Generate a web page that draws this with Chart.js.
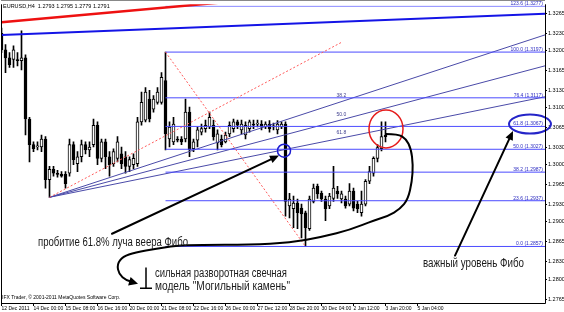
<!DOCTYPE html>
<html><head><meta charset="utf-8">
<script src="https://cdn.jsdelivr.net/npm/chart.js@4.4.0/dist/chart.umd.min.js"></script>
<style>html,body{margin:0;padding:0;background:#fff;}</style>
</head><body>
<canvas id="c" width="564" height="312"></canvas>
<script>
// ---------- DATA ----------
const opens  = [1.3230,1.3201,1.3187,1.3184,1.3184,1.3182,1.3187,1.3080,1.3035,1.3031,1.3031,1.3045,1.2974,1.2992,1.2985,1.2983,1.2983,1.2985,1.3035,1.3002,1.3014,1.3035,1.3026,1.3035,1.3069,1.3011,1.3040,1.3014,1.3002,1.3011,1.3019,1.3014,1.2997,1.3000,1.3002,1.3075,1.3078,1.3115,1.3097,1.3109,1.3109,1.3147,1.3045,1.3040,1.3045,1.3045,1.3045,1.3092,1.3028,1.3043,1.3057,1.3063,1.3066,1.3069,1.3038,1.3045,1.3040,1.3054,1.3063,1.3075,1.3061,1.3052,1.3063,1.3071,1.3071,1.3071,1.3066,1.3071,1.3066,1.3061,1.3066,1.3071,1.2928,1.2923,1.2933,1.2924,1.2916,1.2888,1.2936,1.2962,1.2950,1.2940,1.2928,1.2941,1.2954,1.2940,1.2940,1.2931,1.2954,1.2931,1.2916,1.2931,1.2971,1.2985,1.3011,1.3028,1.3052];
const highs  = [1.3239,1.3210,1.3196,1.3208,1.3196,1.3234,1.3192,1.3083,1.3040,1.3040,1.3052,1.3049,1.2997,1.2997,1.2990,1.2988,1.2988,1.3045,1.3040,1.3023,1.3043,1.3040,1.3040,1.3080,1.3075,1.3045,1.3045,1.3023,1.3028,1.3049,1.3031,1.3023,1.3014,1.3019,1.3083,1.3127,1.3135,1.3130,1.3121,1.3135,1.3161,1.3197,1.3075,1.3083,1.3049,1.3049,1.3115,1.3101,1.3045,1.3066,1.3071,1.3078,1.3092,1.3078,1.3061,1.3052,1.3057,1.3075,1.3080,1.3078,1.3078,1.3075,1.3078,1.3078,1.3078,1.3077,1.3075,1.3077,1.3073,1.3077,1.3075,1.3075,1.2950,1.2945,1.2940,1.2931,1.2919,1.2945,1.2966,1.2966,1.2954,1.2945,1.2950,1.2997,1.2962,1.2954,1.2945,1.2967,1.2959,1.2936,1.2954,1.2974,1.2997,1.3014,1.3035,1.3075,1.3075];
const lows   = [1.3196,1.3161,1.3170,1.3170,1.3173,1.3166,1.3052,1.3005,1.3023,1.3026,1.3023,1.2959,1.2943,1.2980,1.2978,1.2978,1.2959,1.2980,1.3000,1.2988,1.3005,1.3019,1.3014,1.3031,1.3000,1.3005,1.2993,1.2980,1.2997,1.3005,1.2993,1.2985,1.2988,1.2993,1.2997,1.3069,1.3075,1.3075,1.3092,1.3106,1.3106,1.3026,1.3031,1.3035,1.3040,1.3035,1.3040,1.3014,1.3023,1.3031,1.3052,1.3057,1.3063,1.3043,1.3026,1.3031,1.3038,1.3049,1.3057,1.3063,1.3054,1.3045,1.3057,1.3063,1.3066,1.3061,1.3063,1.3057,1.3061,1.3054,1.3063,1.2910,1.2907,1.2890,1.2888,1.2872,1.2857,1.2885,1.2933,1.2941,1.2936,1.2902,1.2923,1.2936,1.2941,1.2933,1.2924,1.2928,1.2919,1.2916,1.2910,1.2928,1.2967,1.2980,1.3005,1.3024,1.3040];
const closes = [1.3201,1.3187,1.3175,1.3201,1.3182,1.3187,1.3080,1.3035,1.3028,1.3033,1.3045,1.2974,1.2992,1.2985,1.2983,1.2980,1.2967,1.3035,1.3009,1.3014,1.3035,1.3026,1.3031,1.3069,1.3011,1.3040,1.3014,1.3000,1.3023,1.3040,1.3002,1.2997,1.3009,1.3011,1.3075,1.3109,1.3127,1.3080,1.3115,1.3127,1.3153,1.3054,1.3066,1.3071,1.3043,1.3040,1.3092,1.3026,1.3040,1.3061,1.3063,1.3069,1.3083,1.3049,1.3054,1.3035,1.3052,1.3069,1.3075,1.3069,1.3071,1.3069,1.3075,1.3069,1.3073,1.3066,1.3071,1.3063,1.3068,1.3071,1.3071,1.2936,1.2940,1.2933,1.2916,1.2914,1.2890,1.2940,1.2959,1.2949,1.2940,1.2923,1.2945,1.2959,1.2949,1.2949,1.2928,1.2954,1.2924,1.2923,1.2931,1.2971,1.2988,1.3011,1.3030,1.3049,1.3049];

const xTickBars   = [0, 8, 16, 24, 32, 40, 48, 56, 64, 72, 80, 88, 96, 104];
const xTickLabels = ['12 Dec 2011','14 Dec 00:00','15 Dec 08:00','16 Dec 16:00','20 Dec 00:00','21 Dec 08:00','22 Dec 16:00','26 Dec 00:00','27 Dec 12:00','28 Dec 20:00','30 Dec 04:00','2 Jan 12:00','3 Jan 20:00','5 Jan 04:00'];
const yTicks = [1.3265,1.3230,1.3200,1.3165,1.3130,1.3100,1.3065,1.3030,1.3000,1.2965,1.2930,1.2900,1.2865,1.2830,1.2800,1.2765];

// Fibo retracement (anchors + levels as labelled)
const fiboStart = {x: 41, y: 1.3197};
const fiboEnd   = {x: 76, y: 1.2857};
const fibLevels = [0.0, 23.6, 38.2, 50.0, 61.8, 76.4, 100.0, 123.6];
const fibPrices = [1.2857, 1.2937, 1.2987, 1.3027, 1.3067, 1.3117, 1.3197, 1.3277];

// Fibo fan
const fanOrigin = {x: 12, y: 1.2943};
const fanEnd    = {x: 85.25, y: 1.3215};
const fanLevels = [38.2, 50.0, 61.8];
const fanPrices = [1.3111, 1.3079, 1.3047];

// trend lines
const redTrend  = [{x: 0, y: 1.3249}, {x: 60, y: 1.3287}];
const blueTrend = [{x: 0, y: 1.3227}, {x: 135.875, y: 1.3264}];

// annotations (data coordinates)
const breakCircle = {x: 70.625, y: 1.30245};
const redCircle   = {x: 96.125, y: 1.30626};
const levelOval   = {x: 132.125, y: 1.30712};
const arrowBreak  = [{x: 27.625, y: 1.28792}, {x: 69.375, y: 1.30159}];
const arrowLevel  = [{x: 113.375, y: 1.28411}, {x: 127.875, y: 1.30591}];
const curvePts = [[96.125,1.30539],[99.125,1.30539],[101.125,1.30453],[102.375,1.30280],[102.875,1.30003],[102.625,1.29709],[101.625,1.29397],[99.625,1.29224],[96.625,1.29103],[93.375,1.29034],[87.125,1.28861],[80.375,1.28740],[72.125,1.28636],[62.125,1.28602],[49.625,1.28602],[43.375,1.28584],[38.875,1.28532],[33.375,1.28463],[30.375,1.28394],[28.875,1.28256],[29.375,1.28083],[31.125,1.27979],[33.125,1.27944]];
const texts = [
  {t: 'пробитие 61.8% луча веера Фибо', x: 9.125, y: 1.28636, w: 150},
  {t: 'важный уровень Фибо', x: 105.375, y: 1.28273, w: 101},
  {t: 'сильная разворотная свечная', x: 38.375, y: 1.28100, w: 132},
  {t: 'модель "Могильный камень"', x: 38.375, y: 1.27858, w: 135}
];
const gravestone = {x: 36.125, top: 1.28204, bottom: 1.27840, left: 34.625, right: 37.625};
const headerText = 'EURUSD,H4  1.2793 1.2795 1.2779 1.2791';
const footerText = 'IFX Trader, © 2001-2011 MetaQuotes Software Corp.';

// ---------- CHART ----------
const xMin = -0.125, xMax = 135.875;
const yMin = 1.27581, yMax = 1.32806;

const bodies = opens.map((o, i) => ({x: i, y: [o, closes[i]]}));
const wicks  = lows.map((l, i) => ({x: i, y: [l, highs[i]]}));
const bull   = opens.map((o, i) => closes[i] >= o);

function lineDS(pts, color, width, dash, order) {
  return {type: 'line', data: pts, borderColor: color, borderWidth: width, borderDash: dash || [],
    pointRadius: 0, fill: false, tension: 0, order: order, parsing: true};
}
function rayEnd(o, p) {
  const t = (xMax - o.x) / (p.x - o.x);
  return {x: xMax, y: o.y + (p.y - o.y) * t};
}

const datasets = [];
datasets.push({type: 'bar', data: wicks, backgroundColor: '#000', barThickness: 1, grouped: false, order: 20});
datasets.push({type: 'bar', data: bodies, backgroundColor: bull.map(b => b ? '#fff' : '#000'),
  borderColor: '#000', borderWidth: 1, borderSkipped: false, barThickness: 3, minBarLength: 1, grouped: false, order: 19});
fibPrices.forEach((p, k) => datasets.push(lineDS([{x: fiboStart.x, y: p}, {x: xMax, y: p}], k === 7 ? '#8a8aff' : '#4b4bff', 1, null, 5)));
datasets.push(lineDS([fiboStart, fiboEnd], '#ff5a5a', 1, [2, 2], 4));
fanPrices.forEach(p => datasets.push(lineDS([fanOrigin, rayEnd(fanOrigin, {x: fanEnd.x, y: p})], '#4a4aa8', 1, null, 5)));
datasets.push(lineDS([fanOrigin, fanEnd], '#ff5a5a', 1, [2, 2], 4));
datasets.push(lineDS(redTrend, '#ee1111', 2.5, null, 3));
datasets.push(lineDS(blueTrend, '#1414e6', 2, null, 3));

function arrowHead(ctx, x0, y0, x1, y1, len, half) {
  const a = Math.atan2(y1 - y0, x1 - x0);
  ctx.beginPath();
  ctx.moveTo(x1, y1);
  ctx.lineTo(x1 - len * Math.cos(a) + half * Math.sin(a), y1 - len * Math.sin(a) - half * Math.cos(a));
  ctx.lineTo(x1 - len * Math.cos(a) - half * Math.sin(a), y1 - len * Math.sin(a) + half * Math.cos(a));
  ctx.closePath(); ctx.fill();
}

const annPlugin = {
  id: 'ann',
  afterDatasetsDraw(chart) {
    const {ctx, chartArea: a, scales: {x, y}} = chart;
    const X = v => x.getPixelForValue(v), Y = v => y.getPixelForValue(v);
    ctx.save();
    ctx.beginPath(); ctx.rect(a.left, 0, a.right - a.left, a.bottom); ctx.clip();
    ctx.font = '5px "Liberation Sans", Arial, sans-serif';
    ctx.textAlign = 'right'; ctx.textBaseline = 'alphabetic'; ctx.fillStyle = '#2b2bc0';
    fibLevels.forEach((lv, k) => ctx.fillText(lv.toFixed(1) + ' (' + fibPrices[k].toFixed(4) + ')', a.right - 2, Y(fibPrices[k]) - 1));
    ctx.textAlign = 'left'; ctx.fillStyle = '#3d3d8c';
    fanLevels.forEach((lv, k) => ctx.fillText(lv.toFixed(1), X(fanEnd.x) - 6, Y(fanPrices[k]) - 4));
    ctx.restore();

    ctx.save();
    ctx.lineWidth = 1.5;
    ctx.strokeStyle = '#1d1dd0';
    ctx.beginPath(); ctx.ellipse(X(breakCircle.x), Y(breakCircle.y), 6.5, 6.5, 0, 0, Math.PI * 2); ctx.stroke();
    ctx.strokeStyle = '#e51c1c';
    ctx.beginPath(); ctx.ellipse(X(redCircle.x), Y(redCircle.y), 17, 19, 0, 0, Math.PI * 2); ctx.stroke();
    ctx.lineWidth = 2; ctx.strokeStyle = '#2424c8';
    ctx.beginPath(); ctx.ellipse(X(levelOval.x), Y(levelOval.y), 21, 9.5, 0, 0, Math.PI * 2); ctx.stroke();

    ctx.strokeStyle = '#000'; ctx.fillStyle = '#000'; ctx.lineWidth = 2; ctx.lineCap = 'round'; ctx.lineJoin = 'round';
    [arrowBreak, arrowLevel].forEach(ar => {
      const x0 = X(ar[0].x), y0 = Y(ar[0].y), x1 = X(ar[1].x), y1 = Y(ar[1].y);
      const ang = Math.atan2(y1 - y0, x1 - x0);
      ctx.beginPath(); ctx.moveTo(x0, y0); ctx.lineTo(x1 - 6 * Math.cos(ang), y1 - 6 * Math.sin(ang)); ctx.stroke();
      arrowHead(ctx, x0, y0, x1, y1, 9, 4);
    });
    const pts = curvePts.map(p => [X(p[0]), Y(p[1])]);
    ctx.beginPath(); ctx.moveTo(pts[0][0], pts[0][1]);
    for (let k = 1; k < pts.length - 1; k++) {
      const mx = (pts[k][0] + pts[k + 1][0]) / 2, my = (pts[k][1] + pts[k + 1][1]) / 2;
      ctx.quadraticCurveTo(pts[k][0], pts[k][1], mx, my);
    }
    const n = pts.length;
    ctx.lineTo(pts[n - 1][0], pts[n - 1][1]);
    ctx.stroke();
    arrowHead(ctx, pts[n - 2][0], pts[n - 2][1], pts[n - 1][0] + 4, pts[n - 1][1] + 1.5, 9, 4.5);
    ctx.lineWidth = 1.5; ctx.lineCap = 'butt';
    ctx.beginPath();
    ctx.moveTo(X(gravestone.x), Y(gravestone.top)); ctx.lineTo(X(gravestone.x), Y(gravestone.bottom));
    ctx.moveTo(X(gravestone.left), Y(gravestone.bottom)); ctx.lineTo(X(gravestone.right), Y(gravestone.bottom));
    ctx.stroke();
    ctx.fillStyle = '#1a1a1a'; ctx.textAlign = 'left'; ctx.textBaseline = 'middle';
    ctx.font = '12px "Liberation Sans", Arial, sans-serif';
    texts.forEach(t => ctx.fillText(t.t, X(t.x), Y(t.y), t.w));
    ctx.restore();
  },
  afterDraw(chart) {
    const {ctx, chartArea: a} = chart;
    ctx.save();
    ctx.strokeStyle = '#000'; ctx.lineWidth = 1;
    ctx.beginPath();
    ctx.moveTo(a.left + 0.5, a.top); ctx.lineTo(a.left + 0.5, a.bottom + 0.5);
    ctx.lineTo(a.right + 0.5, a.bottom + 0.5); ctx.lineTo(a.right + 0.5, a.top);
    ctx.stroke();
    ctx.strokeStyle = '#888';
    ctx.beginPath(); ctx.moveTo(a.left, 0.5); ctx.lineTo(a.right, 0.5); ctx.stroke();
    ctx.fillStyle = '#000'; ctx.textAlign = 'left'; ctx.textBaseline = 'middle';
    ctx.font = '5.5px "Liberation Sans", Arial, sans-serif';
    ctx.fillText(headerText, 3, 6);
    ctx.font = '5px "Liberation Sans", Arial, sans-serif';
    ctx.fillText(footerText, 2, 298);
    ctx.restore();
  }
};

new Chart(document.getElementById('c'), {
  type: 'bar',
  data: {datasets: datasets},
  options: {
    responsive: false, animation: false, devicePixelRatio: 1,
    layout: {padding: {left: 1, top: 1, right: 0, bottom: 0}},
    plugins: {legend: {display: false}, tooltip: {enabled: false}},
    scales: {
      x: {
        type: 'linear', min: xMin, max: xMax, offset: false, position: 'bottom',
        grid: {display: true, offset: false, drawOnChartArea: false, drawTicks: true, tickLength: 3, color: '#000'},
        border: {display: false},
        ticks: {font: {size: 5, family: '"Liberation Sans", Arial'}, color: '#000', padding: 0, align: 'start',
          maxRotation: 0, autoSkip: false, callback: (v, i) => xTickLabels[i]},
        afterBuildTicks: s => { s.ticks = xTickBars.map(v => ({value: v})); },
        afterFit: s => { s.height = 9; }
      },
      y: {
        type: 'linear', position: 'right', min: yMin, max: yMax,
        grid: {display: true, drawOnChartArea: false, drawTicks: true, tickLength: 2, color: '#000'},
        border: {display: false},
        ticks: {font: {size: 5.5, family: '"Liberation Sans", Arial'}, color: '#000', padding: 1, autoSkip: false,
          callback: v => Number(v).toFixed(4)},
        afterBuildTicks: s => { s.ticks = yTicks.map(v => ({value: v})); },
        afterFit: s => { s.width = 19; }
      }
    }
  },
  plugins: [annPlugin]
});
</script>
</body></html>
